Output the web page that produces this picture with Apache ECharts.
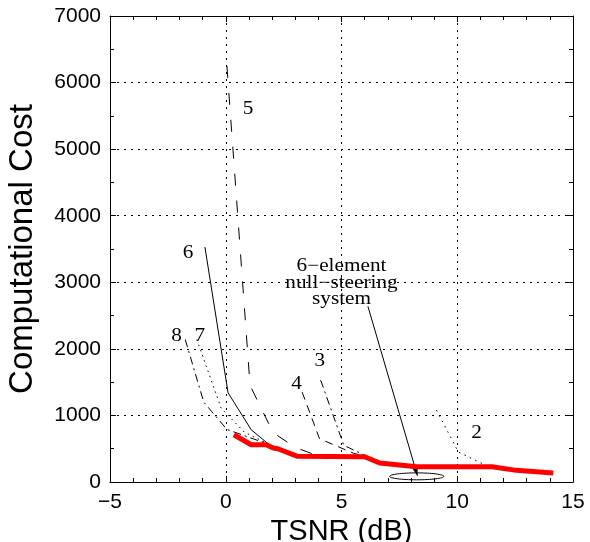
<!DOCTYPE html>
<html>
<head>
<meta charset="utf-8">
<script src="https://cdn.jsdelivr.net/npm/echarts@6/dist/echarts.min.js"></script>
<style>
html, body { margin: 0; padding: 0; background: #fff; }
#chart { width: 590px; height: 542px; }
</style>
</head>
<body>
<div id="chart"></div>
<script>
// 曲线数据 (TSNR dB, cost)
const sysX = [0.35, 1.1, 1.75, 2.05, 2.25, 3.1, 6.0, 6.65, 8.25, 11.5, 12.55, 14.15];
const sysY = [710, 560, 560, 510, 500, 385, 380, 285, 230, 230, 175, 135];

const c2X = [9.1, 10.05, 11.3];
const c2Y = [1080, 450, 240];
const c3X = [4.1, 5.1, 6.05];
const c3Y = [1530, 550, 395];
const c4X = [3.3, 4.05, 5.5, 6.0];
const c4Y = [1350, 650, 435, 385];
const c5X = [0.05, 1.05, 2.05, 3.0, 4.0];
const c5Y = [6250, 1450, 740, 520, 390];
const c6X = [-0.9, 0.1, 1.1, 2.05];
const c6Y = [3530, 1340, 785, 510];
const c7X = [-1.25, -0.2, 0.8, 1.9];
const c7Y = [2140, 1110, 750, 560];
const c8X = [-1.75, -0.95, 0.05, 1.9];
const c8Y = [2140, 1200, 790, 560];

// 曲线标号
const tagText = ['5', '6', '8', '7', '4', '3', '2'];
const tagX = [0.96, -1.63, -2.13, -1.12, 3.06, 4.06, 10.83];
const tagY = [5600, 3440, 2186, 2186, 1461, 1811, 736];

const xTicks = [-5, 15, 5];
const yTicks = [0, 7000, 1000];

function zip(xs, ys) { return xs.map((x, i) => [x, ys[i]]); }

const chart = echarts.init(document.getElementById('chart'));

function blackLine(name, xs, ys, type) {
    return {
        name: name, type: 'line', data: zip(xs, ys), symbol: 'none', silent: true,
        lineStyle: { color: '#000', width: 1, type: type }
    };
}

const mainAxisX = {
    type: 'value', min: xTicks[0], max: xTicks[1], interval: xTicks[2],
    name: 'TSNR (dB)', nameLocation: 'middle', nameGap: 21,
    nameTextStyle: { fontFamily: 'Liberation Sans', fontSize: 29, color: '#000' },
    axisLine: { onZero: false, lineStyle: { color: '#000', width: 1 } },
    axisTick: { inside: true, length: 6, lineStyle: { color: '#000' } },
    minorTick: { show: true, splitNumber: 5, length: 4, lineStyle: { color: '#000' } },
    axisLabel: { fontFamily: 'Liberation Sans', fontSize: 21, color: '#000', margin: 10,
        formatter: v => String(v).replace('-', '\u2212') },
    splitLine: { show: true, lineStyle: { color: '#000', width: 1, type: [2, 5] } }
};
const mainAxisY = {
    type: 'value', min: yTicks[0], max: yTicks[1], interval: yTicks[2],
    name: 'Computational Cost', nameLocation: 'middle', nameGap: 71,
    nameTextStyle: { fontFamily: 'Liberation Sans', fontSize: 33, color: '#000' },
    axisLine: { onZero: false, lineStyle: { color: '#000', width: 1 } },
    axisTick: { inside: true, length: 6, lineStyle: { color: '#000' } },
    minorTick: { show: true, splitNumber: 2, length: 4, lineStyle: { color: '#000' } },
    axisLabel: { fontFamily: 'Liberation Sans', fontSize: 21, color: '#000', margin: 9,
        formatter: v => String(v) },
    splitLine: { show: true, lineStyle: { color: '#000', width: 1, type: [2, 5] } }
};

chart.setOption({
    animation: false,
    backgroundColor: '#fff',
    grid: { left: 110, top: 16, width: 463, height: 466, outerBoundsMode: 'none', containLabel: false },
    xAxis: [
        mainAxisX,
        Object.assign({}, mainAxisX, { position: 'top', name: '', axisLabel: { show: false }, splitLine: { show: false } })
    ],
    yAxis: [
        mainAxisY,
        Object.assign({}, mainAxisY, { position: 'right', name: '', axisLabel: { show: false }, splitLine: { show: false } })
    ],
    series: [
        blackLine('5', c5X, c5Y, [12, 15]),
        blackLine('4', c4X, c4Y, [8, 6]),
        blackLine('3', c3X, c3Y, [8, 4, 2, 4]),
        blackLine('8', c8X, c8Y, [8, 4, 2, 4]),
        blackLine('7', c7X, c7Y, [1.5, 4]),
        blackLine('2', c2X, c2Y, [1.5, 4.5]),
        blackLine('6', c6X, c6Y, 'solid'),
        {
            name: 'system', type: 'line', data: zip(sysX, sysY), symbol: 'none', silent: true,
            lineStyle: { color: '#ff0000', width: 5 }, z: 5
        }
    ]
});

// 注释: 曲线标号, 说明文字, 箭头, 椭圆
function px(x, y) { return chart.convertToPixel({ xAxisIndex: 0, yAxisIndex: 0 }, [x, y]); }

function serifText(t, p) {
    return {
        type: 'text', x: p[0], y: p[1], scaleX: 1.18, silent: true,
        style: { text: t, fontFamily: 'Liberation Serif', fontSize: 18, fill: '#000', align: 'center', verticalAlign: 'middle' }
    };
}

const graphics = [];
tagText.forEach((t, i) => graphics.push(serifText(t, px(tagX[i], tagY[i]))));

const noteLines = ['6\u2212element', 'null\u2212steering', 'system'];
const noteY = [3240, 2990, 2750];
noteLines.forEach((t, i) => graphics.push(serifText(t, px(5.0, noteY[i]))));

const a0 = px(6.14, 2640), a1 = px(8.28, 95);
graphics.push({ type: 'line', silent: true, shape: { x1: a0[0], y1: a0[1], x2: a1[0], y2: a1[1] }, style: { stroke: '#000', lineWidth: 1 } });
const ang = Math.atan2(a1[1] - a0[1], a1[0] - a0[0]);
const hl = 9, hw = 3;
const bx = a1[0] - hl * Math.cos(ang), by = a1[1] - hl * Math.sin(ang);
graphics.push({
    type: 'polygon', silent: true,
    shape: { points: [[a1[0], a1[1]], [bx + hw * Math.sin(ang), by - hw * Math.cos(ang)], [bx - hw * Math.sin(ang), by + hw * Math.cos(ang)]] },
    style: { fill: '#000' }
});

const ec = px(8.25, 85), er = px(8.25 + 1.17, 85 + 52);
graphics.push({
    type: 'ellipse', silent: true, z: 10,
    shape: { cx: ec[0], cy: ec[1], rx: er[0] - ec[0], ry: ec[1] - er[1] },
    style: { fill: 'none', stroke: '#000', lineWidth: 1 }
});

chart.setOption({ graphic: graphics });
</script>
</body>
</html>
